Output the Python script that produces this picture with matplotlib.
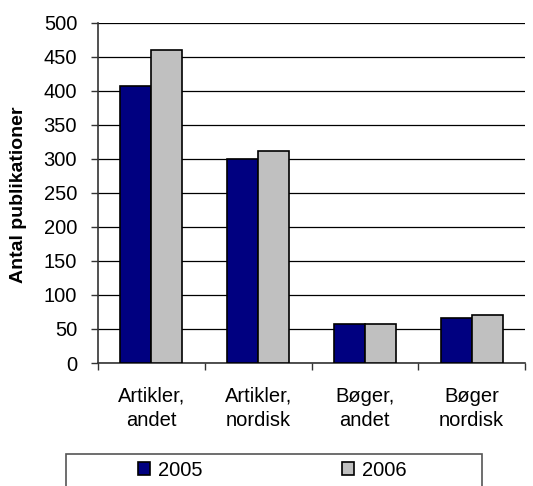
import matplotlib
matplotlib.use('Agg')
import matplotlib.pyplot as plt
import matplotlib.patches as patches
import numpy as np

CATEGORIES = ['Artikler,\nandet', 'Artikler,\nnordisk', 'Bøger,\nandet', 'Bøger\nnordisk']
YEARS = ['2005', '2006']
VALUES_2005 = [408, 300, 58, 66]
VALUES_2006 = [460, 312, 58, 71]
COLORS = {'2005': '#000080', '2006': '#C0C0C0'}
Y_TICKS = [0, 50, 100, 150, 200, 250, 300, 350, 400, 450, 500]

plt.rcParams['font.family'] = ['Liberation Sans', 'DejaVu Sans']
FS = 14.5

fig = plt.figure(figsize=(5.33, 4.86), dpi=100)
ax = fig.add_axes([98 / 533, 1 - 363 / 486, 427 / 533, 340 / 486])

x = np.arange(len(CATEGORIES))
width = 0.29
bars = []
for index, (year, values) in enumerate(zip(YEARS, [VALUES_2005, VALUES_2006])):
    b = ax.bar(x + (index - 0.5) * width, values, width,
               color=COLORS[year], edgecolor='black', linewidth=1.2,
               label=year, zorder=3)
    bars.append(b)

ax.set_xlim(-0.5, len(CATEGORIES) - 0.5)
ax.set_ylim(0, 500)
ax.set_yticks(Y_TICKS)
ax.yaxis.grid(True, color='black', linewidth=0.9, zorder=0)
ax.set_axisbelow(True)

ax.set_xticks(x)
ax.set_xticklabels(CATEGORIES, fontsize=FS, linespacing=1.35)
ax.set_xticks(np.arange(len(CATEGORIES) + 1) - 0.5, minor=True)
ax.tick_params(axis='x', which='major', length=0, pad=17)
ax.tick_params(axis='x', which='minor', length=5, width=1, color='#333333')
ax.tick_params(axis='y', length=5, width=1, labelsize=FS, pad=10, color='#333333')

for side in ['top', 'right']:
    ax.spines[side].set_visible(False)
ax.spines['left'].set_color('#333333')
ax.spines['bottom'].set_color('#333333')
ax.spines['left'].set_linewidth(1.2)
ax.spines['bottom'].set_linewidth(1.2)

fig.text(19 / 533, 1 - 195 / 486, 'Antal publikationer', rotation=90,
         fontsize=14, fontweight='bold', ha='center', va='center')

# legend box runs off the bottom edge, as in the reference
box = patches.Rectangle((66 / 533, -0.05), (482 - 66) / 533, (486 - 454) / 486 + 0.05,
                        transform=fig.transFigure, fill=False,
                        edgecolor='#555555', linewidth=1.2)
fig.patches.append(box)

fig.legend(handles=bars, labels=YEARS, ncol=2, frameon=False,
           loc='center left', bbox_to_anchor=(138 / 533, 1 - 470 / 486),
           fontsize=FS, handlelength=0.6, handleheight=0.6,
           handletextpad=0.4, columnspacing=6.9, borderpad=0, borderaxespad=0)

fig.savefig('out.png', dpi=100)
